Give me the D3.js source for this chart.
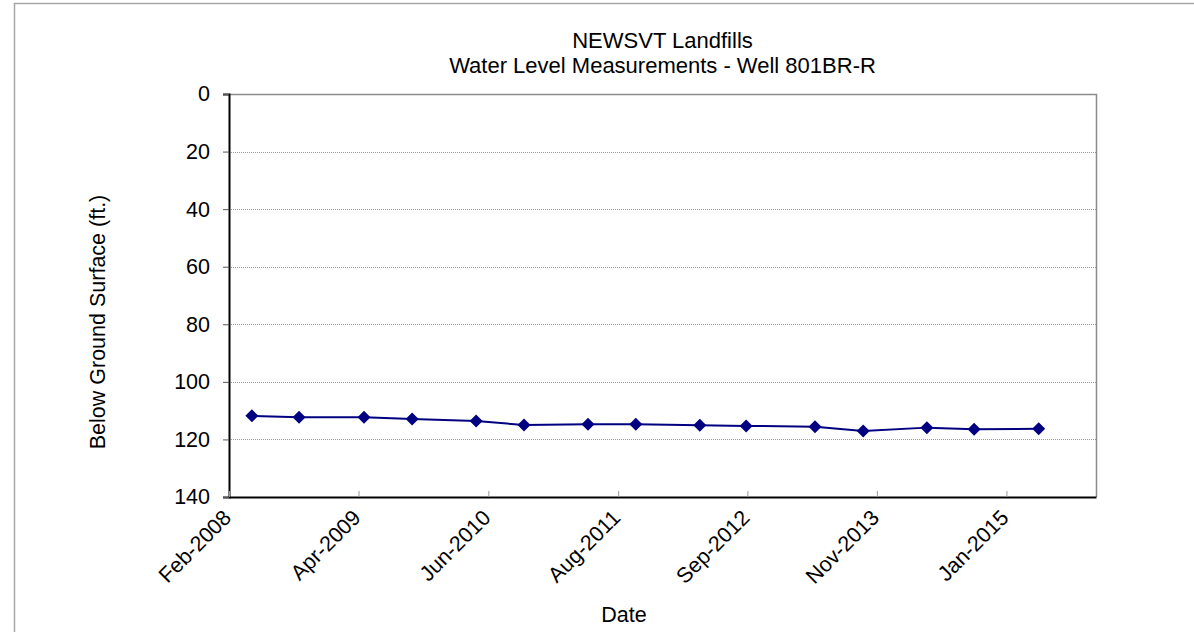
<!DOCTYPE html>
<html>
<head>
<meta charset="utf-8">
<script src="https://cdn.jsdelivr.net/npm/d3@7"></script>
<style>
  html, body { margin: 0; padding: 0; background: #fff; }
  svg { display: block; font-family: "Liberation Sans", Arial, sans-serif; }
</style>
</head>
<body>
<div id="chart"></div>
<script>
const WIDTH = 1194;
const HEIGHT = 632;

// measurement dates and depth below ground surface (ft.)
const dates = [
  "2008-04-16", "2008-09-18", "2009-04-19", "2009-09-24", "2010-04-22",
  "2010-09-26", "2011-04-24", "2011-09-28", "2012-04-25", "2012-09-24",
  "2013-05-08", "2013-10-13", "2014-05-10", "2014-10-12", "2015-05-12"
];
const depths = [
  111.8, 112.3, 112.3, 112.9, 113.6,
  115.0, 114.7, 114.7, 115.1, 115.3,
  115.6, 117.1, 115.9, 116.5, 116.3
];

const xTickDates = ["2008-02-01", "2009-04-01", "2010-06-01", "2011-08-01", "2012-09-28", "2013-11-27", "2015-01-26"];
const xTickLabels = ["Feb-2008", "Apr-2009", "Jun-2010", "Aug-2011", "Sep-2012", "Nov-2013", "Jan-2015"];
const xDomain = ["2008-02-01", "2015-11-16"];
const yTicks = [0, 20, 40, 60, 80, 100, 120, 140];

const titleLines = ["NEWSVT Landfills", "Water Level Measurements - Well 801BR-R"];
const yTitle = "Below Ground Surface (ft.)";
const xTitle = "Date";

const parse = d3.utcParse("%Y-%m-%d");
const plot = { left: 229, top: 94, right: 1096, bottom: 497 };
const FONT = 21.5;

const svg = d3.select("#chart").append("svg")
  .attr("width", WIDTH).attr("height", HEIGHT);

// outer chart border (only top and left are inside the frame)
svg.append("rect")
  .attr("x", 14.5).attr("y", 3.5)
  .attr("width", WIDTH + 20).attr("height", HEIGHT + 20)
  .attr("fill", "none").attr("stroke", "#a6a6a6").attr("stroke-width", 1.5);

const x = d3.scaleUtc()
  .domain(xDomain.map(parse))
  .range([plot.left, plot.right]);

const y = d3.scaleLinear()
  .domain([0, 140])
  .range([plot.top, plot.bottom]);

// gridlines
svg.append("g")
  .selectAll("line")
  .data(yTicks.filter(t => t > 0 && t < 140))
  .join("line")
  .attr("x1", plot.left).attr("x2", plot.right)
  .attr("y1", d => Math.round(y(d)) + 0.5).attr("y2", d => Math.round(y(d)) + 0.5)
  .attr("stroke", "#9a9a9a").attr("stroke-width", 1)
  .attr("stroke-dasharray", "1,1");

// plot frame top / right
svg.append("path")
  .attr("d", `M${plot.left},${plot.top + 0.5}H${plot.right + 0.5}V${plot.bottom}`)
  .attr("fill", "none").attr("stroke", "#8c8c8c").attr("stroke-width", 1.5);

// y axis
const yAxis = svg.append("g")
  .attr("transform", `translate(${plot.left},0)`)
  .call(d3.axisLeft(y).tickValues(yTicks).tickSize(6).tickPadding(13));
yAxis.select(".domain").attr("stroke", "#000").attr("stroke-width", 2);
yAxis.selectAll(".tick line").attr("stroke", "#555");
yAxis.selectAll(".tick text")
  .attr("font-size", FONT).attr("fill", "#000")
  .attr("font-family", "Liberation Sans, Arial, sans-serif");

// x axis, ticks point inward
const xAxis = svg.append("g")
  .attr("transform", `translate(0,${plot.bottom})`)
  .call(d3.axisBottom(x)
    .tickValues(xTickDates.map(parse))
    .tickFormat((d, i) => xTickLabels[i])
    .tickSizeInner(-6).tickSizeOuter(0));
xAxis.select(".domain").attr("stroke", "#000").attr("stroke-width", 2);
xAxis.selectAll(".tick line").attr("stroke", "#999");
xAxis.selectAll(".tick text")
  .attr("font-size", FONT).attr("fill", "#000")
  .attr("font-family", "Liberation Sans, Arial, sans-serif")
  .attr("text-anchor", "end")
  .attr("dy", null)
  .attr("y", 0)
  .attr("transform", "translate(3,22) rotate(-45)");

// series
const points = dates.map((d, i) => ({ date: parse(d), v: depths[i] }));

svg.append("path")
  .datum(points)
  .attr("fill", "none")
  .attr("stroke", "#000080")
  .attr("stroke-width", 2)
  .attr("d", d3.line().x(d => x(d.date)).y(d => y(d.v)));

svg.append("g")
  .selectAll("path")
  .data(points)
  .join("path")
  .attr("transform", d => `translate(${x(d.date)},${y(d.v)})`)
  .attr("d", "M0,-6.5L6.5,0L0,6.5L-6.5,0Z")
  .attr("fill", "#000080");

// titles
svg.append("g")
  .selectAll("text")
  .data(titleLines)
  .join("text")
  .attr("x", (plot.left + plot.right) / 2)
  .attr("y", (d, i) => 48 + i * 25)
  .attr("text-anchor", "middle")
  .attr("font-size", 22)
  .text(d => d);

svg.append("text")
  .attr("transform", `translate(105,322) rotate(-90)`)
  .attr("text-anchor", "middle")
  .attr("font-size", FONT)
  .text(yTitle);

svg.append("text")
  .attr("x", 624)
  .attr("y", 622)
  .attr("text-anchor", "middle")
  .attr("font-size", FONT)
  .text(xTitle);
</script>
</body>
</html>
